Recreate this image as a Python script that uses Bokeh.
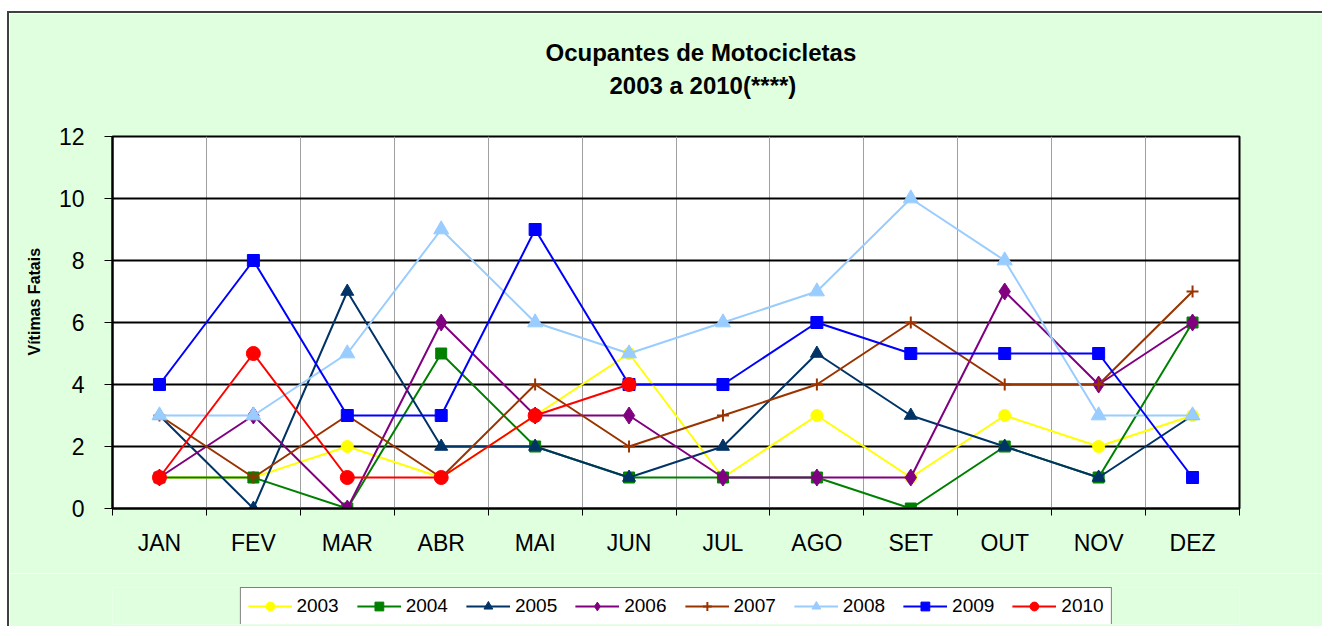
from bokeh.plotting import figure
from bokeh.models import FixedTicker, Legend, LegendItem, Title, Range1d
from bokeh.layouts import column
from bokeh.embed import file_html
from bokeh.resources import INLINE

months = ["JAN", "FEV", "MAR", "ABR", "MAI", "JUN", "JUL", "AGO", "SET", "OUT", "NOV", "DEZ"]
y_ticks = [0, 2, 4, 6, 8, 10, 12]

v2003 = [1, 1, 2, 1, 3, 5, 1, 3, 1, 3, 2, 3]
v2004 = [1, 1, 0, 5, 2, 1, 1, 1, 0, 2, 1, 6]
v2005 = [3, 0, 7, 2, 2, 1, 2, 5, 3, 2, 1, 3]
v2006 = [1, 3, 0, 6, 3, 3, 1, 1, 1, 7, 4, 6]
v2007 = [3, 1, 3, 1, 4, 2, 3, 4, 6, 4, 4, 7]
v2008 = [3, 3, 5, 9, 6, 5, 6, 7, 10, 8, 3, 3]
v2009 = [4, 8, 3, 3, 9, 4, 4, 6, 5, 5, 5, 1]
v2010 = [1, 5, 1, 1, 3, 4]

series = [
    ("2003", v2003, "#FFFF00", "circle", 12),
    ("2004", v2004, "#008000", "square", 11),
    ("2005", v2005, "#003366", "triangle", 13),
    ("2006", v2006, "#800080", "diamond", 17),
    ("2007", v2007, "#993300", "cross", 12),
    ("2008", v2008, "#99CCFF", "triangle", 15),
    ("2009", v2009, "#0000FF", "square", 12),
    ("2010", v2010, "#FF0000", "circle", 14),
]

pos = list(range(1, len(months) + 1))
bounds = [p_ - 0.5 for p_ in pos] + [pos[-1] + 0.5]

FONT = "Liberation Sans"
BG = "#DFFFDF"
EDGE = "2px solid #404040"

# ---------------- main chart ----------------
p = figure(width=1315, height=562, output_backend="svg", toolbar_location=None,
           x_range=(0.5, 12.5), y_range=(0, 12), title=None,
           min_border_left=103, min_border_right=85, min_border_top=123, min_border_bottom=67)
p.styles = {"border-left": EDGE, "border-top": EDGE}
p.background_fill_color = "white"
p.border_fill_color = BG
p.outline_line_color = "black"
p.outline_line_width = 2

title_style = dict(text_font=FONT, text_font_size="24px", text_font_style="bold", text_color="black")
spacer = Title(text=" ", align="left", standoff=7, **title_style)
t2 = Title(text="2003 a 2010(****)", align="left", offset=497, standoff=4, **title_style)
t1 = Title(text="Ocupantes de Motocicletas", align="left", offset=433, standoff=4, **title_style)
p.add_layout(spacer, "above")
p.add_layout(t2, "above")
p.add_layout(t1, "above")

p.xaxis.ticker = FixedTicker(ticks=pos, minor_ticks=bounds)
p.xaxis.major_label_overrides = {i: m for i, m in zip(pos, months)}
p.xaxis.major_tick_line_color = None
p.xaxis.minor_tick_line_color = "black"
p.xaxis.minor_tick_out = 7
p.xaxis.minor_tick_in = 0
p.xaxis.axis_line_color = "black"
p.xaxis.axis_line_width = 2
p.xaxis.major_label_text_font = FONT
p.xaxis.major_label_text_font_size = "23px"
p.xaxis.major_label_text_color = "black"
p.xaxis.major_label_standoff = 14

p.xgrid.ticker = FixedTicker(ticks=bounds)
p.xgrid.grid_line_color = "#A0A0A0"
p.xgrid.grid_line_width = 1

p.yaxis.ticker = FixedTicker(ticks=y_ticks)
p.yaxis.minor_tick_line_color = None
p.yaxis.major_tick_out = 8
p.yaxis.major_tick_in = 0
p.yaxis.major_tick_line_color = "black"
p.yaxis.axis_line_color = "black"
p.yaxis.axis_line_width = 2
p.yaxis.major_label_text_font = FONT
p.yaxis.major_label_text_font_size = "23px"
p.yaxis.major_label_text_color = "black"
p.yaxis.major_label_standoff = 20

# y-axis title as a left-side title so it can sit a little above the middle, as in the original
ytitle = Title(text="Vítimas Fatais", align="left", offset=153, standoff=26,
               text_font=FONT, text_font_size="16px", text_font_style="bold", text_color="black")
p.add_layout(ytitle, "left")

p.ygrid.grid_line_color = "black"
p.ygrid.grid_line_width = 2


def draw(fig, xs, vals, color, marker, size):
    lr = fig.line(xs, vals, line_color=color, line_width=2)
    if marker == "cross":
        sr = fig.scatter(xs, vals, marker=marker, size=size, line_color=color, line_width=2)
    else:
        sr = fig.scatter(xs, vals, marker=marker, size=size, fill_color=color, line_color=color)
    return lr, sr


for name, vals, color, marker, size in series:
    draw(p, pos[:len(vals)], vals, color, marker, size)

# ---------------- legend strip (series drawn outside its view, only legend shows) ----------------
q = figure(width=1315, height=53, output_backend="svg", toolbar_location=None,
           x_range=Range1d(-2, -1), y_range=Range1d(-2, -1),
           x_axis_location=None, y_axis_location=None,
           min_border_left=20, min_border_right=3, min_border_top=14, min_border_bottom=2)
q.styles = {"border-left": EDGE}
q.grid.visible = False
q.outline_line_color = None
q.background_fill_color = BG
q.border_fill_color = BG

items = []
for name, vals, color, marker, size in series:
    lr, sr = draw(q, pos[:len(vals)], vals, color, marker, size)
    items.append(LegendItem(label=name, renderers=[lr, sr]))

legend = Legend(items=items, orientation="horizontal", location="center")
legend.label_text_font = FONT
legend.label_text_font_size = "19px"
legend.label_text_color = "black"
legend.glyph_width = 44
legend.glyph_height = 22
legend.label_standoff = 5
legend.spacing = 18
legend.padding = 7
legend.margin = 0
legend.border_line_color = "black"
legend.border_line_width = 1
legend.background_fill_color = "white"
legend.background_fill_alpha = 1
q.add_layout(legend)

root = column(p, q, spacing=0,
              styles={"padding-left": "7px", "padding-top": "11px", "background-color": "white"})

open("out.html", "w").write(file_html(root, INLINE))
